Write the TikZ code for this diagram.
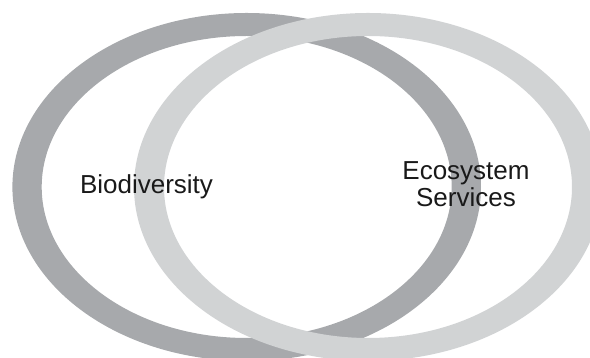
\documentclass[tikz,border=0pt]{standalone}
\usepackage{fontspec}
\setmainfont{Liberation Sans}
\definecolor{ringdark}{HTML}{A7A9AC}
\definecolor{ringlight}{HTML}{D1D3D4}
\begin{document}
\begin{tikzpicture}[x=1pt,y=1pt,
  ring/.style={even odd rule, draw=none},
  lbl/.style={font=\fontsize{26}{27}\selectfont, inner sep=0pt, align=center, text=black!90}]
\useasboundingbox (0,0) rectangle (590,358);
\fill[ring, ringdark] (246.7,171) ellipse [x radius=234.3, y radius=174]
                      (246.7,171) ellipse [x radius=205, y radius=151];
\fill[ring, ringlight] (368,171) ellipse [x radius=234, y radius=174]
                       (368,171) ellipse [x radius=204, y radius=151];
\node[lbl, anchor=base] (bio) at (146.5,164) {Biodiversity};
\node[lbl, anchor=base] (eco) at (466,151) {Ecosystem\\Services};
\end{tikzpicture}
\end{document}
